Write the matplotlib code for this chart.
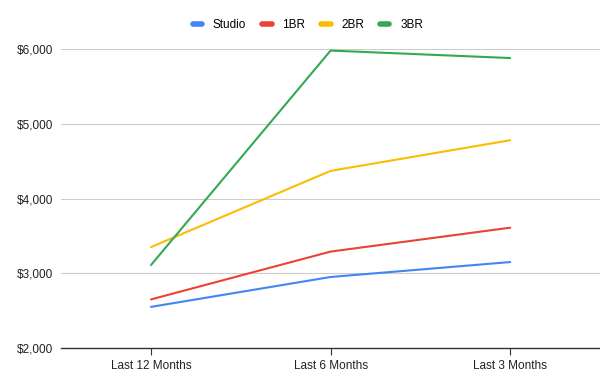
import matplotlib
matplotlib.use("Agg")
from matplotlib import pyplot as plt
from matplotlib.lines import Line2D

plt.rcParams['font.family'] = ['Liberation Sans', 'DejaVu Sans']

periods = ["Last 12 Months", "Last 6 Months", "Last 3 Months"]
studio = [2550, 2950, 3150]
br1 = [2650, 3290, 3610]
br2 = [3350, 4370, 4780]
br3 = [3110, 5980, 5880]
series_names = ["Studio", "1BR", "2BR", "3BR"]
colors = ["#4285F4", "#EA4335", "#FBBC04", "#34A853"]
y_ticks = [2000, 3000, 4000, 5000, 6000]

fig = plt.figure(figsize=(6, 3.76), dpi=100)
ax = fig.add_axes([0.102, 0.0745, 0.898, 0.795])

x = range(len(periods))
for vals, c in zip([studio, br1, br2, br3], colors):
    ax.plot(x, vals, color=c, linewidth=1.5, solid_capstyle='round')

ax.set_xlim(-0.5, 2.5)
ax.set_ylim(2000, 6000)
ax.set_yticks(y_ticks)
ax.set_yticklabels(["${:,}".format(v) for v in y_ticks])
ax.set_xticks(list(x))
ax.set_xticklabels(periods)

ax.grid(axis='y', color='#cccccc', linewidth=0.8)
ax.set_axisbelow(True)
for s in ['top', 'right', 'left']:
    ax.spines[s].set_visible(False)
ax.spines['bottom'].set_color('#333333')
ax.spines['bottom'].set_linewidth(1.0)
ax.spines['bottom'].set_zorder(0.5)

ax.tick_params(axis='y', length=0, labelsize=8.5, colors='#222222', pad=6)
ax.tick_params(axis='x', length=5, width=0.8, color='#333333',
               labelsize=8.5, labelcolor='#222222', pad=4)

handles = [Line2D([0], [0], color=c, linewidth=4, solid_capstyle='round')
           for c in colors]
fig.legend(handles, series_names, loc='center', bbox_to_anchor=(0.513, 0.934),
           ncol=4, frameon=False, fontsize=8.5, handlelength=0.8,
           handletextpad=0.9, columnspacing=1.35)

fig.savefig("out.png", dpi=100)
